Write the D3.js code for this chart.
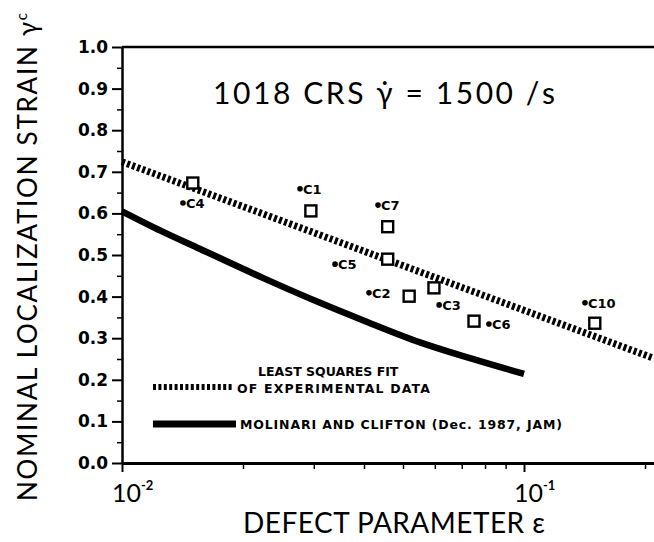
<!DOCTYPE html>
<html>
<head>
<meta charset="utf-8">
<script src="https://cdn.jsdelivr.net/npm/d3@7"></script>
<style>
  body { margin: 0; background: #fff; }
  svg { display: block; }
  .lab { font-family: 'DejaVu Sans', sans-serif; font-weight: bold; fill: #000; }
  .thin { font-family: Lato, 'Open Sans', sans-serif; fill: #000; }
</style>
</head>
<body>
<div id="graph"></div>
<script>
// measured squares (experimental data)
var squareEps = [0.015, 0.0295, 0.0458, 0.0458, 0.0518, 0.0597, 0.0751, 0.150];
var squareStrain = [0.673, 0.606, 0.568, 0.490, 0.401, 0.421, 0.341, 0.336];

// specimen tags (dot + name)
var specNames = ['C4', 'C1', 'C7', 'C5', 'C2', 'C3', 'C6', 'C10'];
var specEps = [0.01418, 0.02772, 0.04334, 0.03388, 0.04115, 0.0615, 0.0818, 0.1418];
var specStrain = [0.625, 0.659, 0.620, 0.478, 0.409, 0.380, 0.334, 0.385];

// least squares fit
var fitEps = [0.01, 0.21];
var fitStrain = [0.724, 0.252];

// Molinari and Clifton curve
var mcEps = [0.01, 0.0125, 0.0156, 0.0224, 0.0311, 0.04, 0.0551, 0.0734, 0.1];
var mcStrain = [0.605, 0.558, 0.515, 0.445, 0.385, 0.342, 0.29, 0.252, 0.214];

var yTicks = [0, 0.1, 0.2, 0.3, 0.4, 0.5, 0.6, 0.7, 0.8, 0.9, 1.0];
var yMinor = [0.05, 0.15, 0.25, 0.35, 0.45, 0.55, 0.65, 0.75, 0.85, 0.95];
var xMajor = [0.01, 0.1];
var xMinor = [0.02, 0.03, 0.04, 0.05, 0.06, 0.07, 0.08, 0.09, 0.2];
var xLabels = [['10', '-2'], ['10', '-1']];

var W = 654, H = 542;
var svg = d3.select('#graph').append('svg')
    .attr('width', W)
    .attr('height', H);

var x = d3.scaleLog().domain([0.01, 0.3]).range([122, 122 + 402 * Math.log10(30)]);
var y = d3.scaleLinear().domain([0, 1]).range([463, 47]);

// axes
svg.append('g')
    .attr('transform', 'translate(122,0)')
    .call(d3.axisLeft(y).tickValues(yTicks).tickSize(10).tickSizeOuter(0).tickFormat(d3.format('.1f')))
    .call(function(g) {
      g.select('.domain').attr('stroke-width', 2.5);
      g.selectAll('.tick line').attr('stroke-width', 2);
      g.selectAll('.tick text').attr('class', 'lab').attr('x', -14).attr('font-size', 17).attr('font-family', null);
    });
svg.append('g')
    .attr('transform', 'translate(122,0)')
    .call(d3.axisLeft(y).tickValues(yMinor).tickSize(5).tickFormat(''))
    .call(function(g) {
      g.select('.domain').remove();
      g.selectAll('.tick line').attr('stroke-width', 1.5);
    });

svg.append('g')
    .attr('transform', 'translate(0,463)')
    .call(d3.axisBottom(x).tickValues(xMajor).tickSize(9).tickSizeOuter(0).tickFormat(''))
    .call(function(g) {
      g.select('.domain').attr('stroke-width', 3);
      g.selectAll('.tick line').attr('stroke-width', 2);
    });
svg.append('g')
    .attr('transform', 'translate(0,463)')
    .call(d3.axisBottom(x).tickValues(xMinor).tickSize(6).tickFormat(''))
    .call(function(g) {
      g.select('.domain').remove();
      g.selectAll('.tick line').attr('stroke-width', 1.5);
    });

// top frame line
svg.append('line')
    .attr('x1', 122).attr('x2', W)
    .attr('y1', y(1)).attr('y2', y(1))
    .attr('stroke', '#000').attr('stroke-width', 2.5);

// decade labels
var dl = svg.selectAll('.dec')
    .data(xMajor)
  .enter().append('text')
    .attr('class', 'thin dec')
    .attr('x', function(d) { return x(d) - 10; })
    .attr('y', 502)
    .attr('font-size', 25);
dl.append('tspan').text(function(d, i) { return xLabels[i][0]; });
dl.append('tspan').attr('dy', -12).attr('font-size', 13).attr('font-weight', 'bold')
    .text(function(d, i) { return xLabels[i][1]; });

// axis titles
svg.append('text')
    .attr('class', 'thin')
    .attr('x', 243).attr('y', 533)
    .attr('font-size', 28)
    .attr('textLength', 302)
    .text('DEFECT PARAMETER ε');

svg.append('text')
    .attr('class', 'thin')
    .attr('transform', 'translate(37,257) rotate(-90)')
    .attr('text-anchor', 'middle')
    .attr('font-size', 26)
    .attr('textLength', 488)
    .html('NOMINAL LOCALIZATION STRAIN γ<tspan font-size="15" dy="-10">c</tspan>');

// title
svg.append('text')
    .attr('class', 'thin')
    .attr('x', 213).attr('y', 104)
    .attr('font-size', 30)
    .attr('textLength', 342)
    .text('1018 CRS  γ̇ = 1500 /s');

// curves
var line = d3.line()
    .x(function(d) { return x(d[0]); })
    .y(function(d) { return y(d[1]); });

svg.append('path')
    .datum(d3.zip(mcEps, mcStrain))
    .attr('d', line.curve(d3.curveMonotoneX))
    .attr('fill', 'none')
    .attr('stroke', '#000')
    .attr('stroke-width', 6.5);

svg.append('path')
    .datum(d3.zip(fitEps, fitStrain))
    .attr('d', d3.line().x(function(d) { return x(d[0]); }).y(function(d) { return y(d[1]); }))
    .attr('fill', 'none')
    .attr('stroke', '#000')
    .attr('stroke-width', 7)
    .attr('stroke-dasharray', '3,2.4');

// squares
svg.selectAll('.sq')
    .data(d3.zip(squareEps, squareStrain))
  .enter().append('rect')
    .attr('class', 'sq')
    .attr('x', function(d) { return x(d[0]) - 5.5; })
    .attr('y', function(d) { return y(d[1]) - 5.5; })
    .attr('width', 11).attr('height', 11)
    .attr('fill', '#fff')
    .attr('stroke', '#000')
    .attr('stroke-width', 2.4);

// specimen tags
var tag = svg.selectAll('.tag')
    .data(specNames)
  .enter().append('g')
    .attr('class', 'tag')
    .attr('transform', function(d, i) { return 'translate(' + x(specEps[i]) + ',' + y(specStrain[i]) + ')'; });
tag.append('circle').attr('r', 2.8).attr('fill', '#000');
tag.append('text')
    .attr('class', 'lab')
    .attr('x', 3).attr('dy', '.36em')
    .attr('font-size', 13)
    .text(function(d) { return d; });

// legend
svg.append('line')
    .attr('x1', 153).attr('x2', 233).attr('y1', 387).attr('y2', 387)
    .attr('stroke', '#000').attr('stroke-width', 6).attr('stroke-dasharray', '3,2.4');
svg.append('line')
    .attr('x1', 153).attr('x2', 236).attr('y1', 424).attr('y2', 424)
    .attr('stroke', '#000').attr('stroke-width', 7);
svg.append('text').attr('class', 'lab').attr('x', 258).attr('y', 376)
    .attr('font-size', 12.5).text('LEAST SQUARES FIT');
svg.append('text').attr('class', 'lab').attr('x', 237).attr('y', 393)
    .attr('font-size', 12.5).attr('textLength', 193).text('OF EXPERIMENTAL DATA');
svg.append('text').attr('class', 'lab').attr('x', 240).attr('y', 429)
    .attr('font-size', 12.5).attr('textLength', 322).text('MOLINARI AND CLIFTON (Dec. 1987, JAM)');
</script>
</body>
</html>
